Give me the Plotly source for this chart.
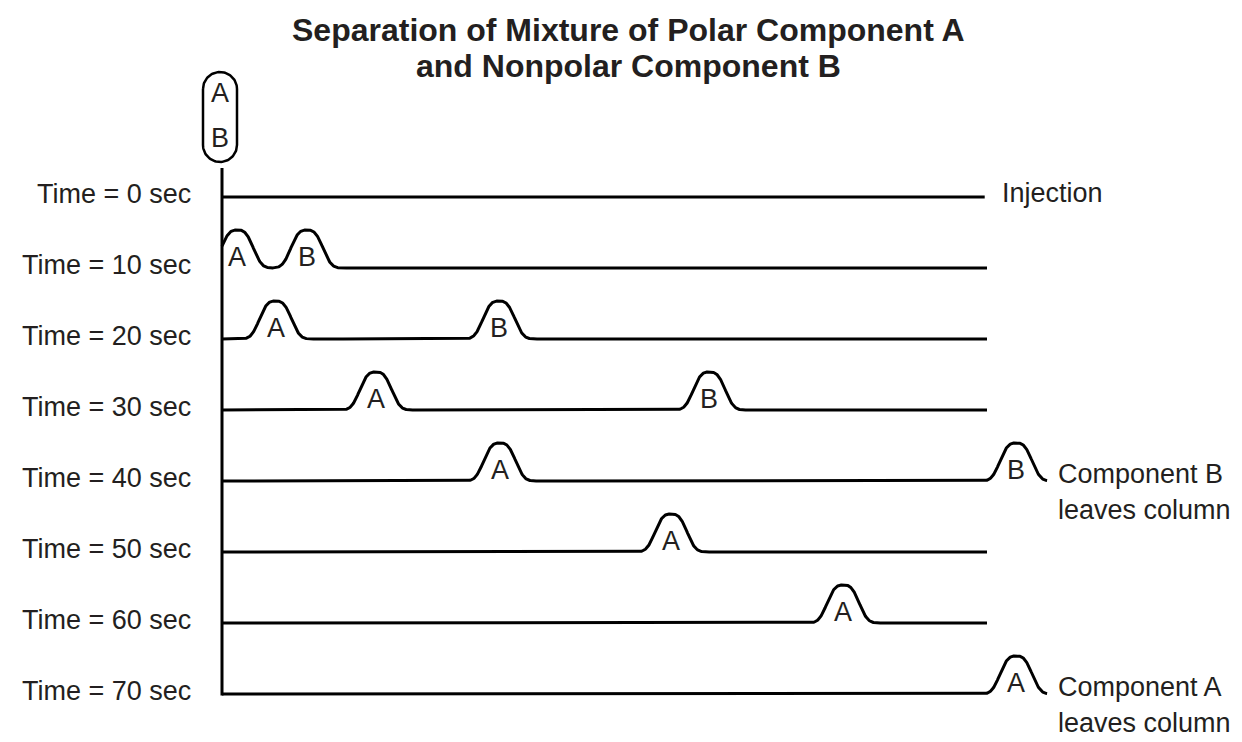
import numpy as np
import plotly.graph_objects as go

# ---------------- data ----------------
times = [0, 10, 20, 30, 40, 50, 60, 70]                 # seconds
time_labels = ["Time = 0 sec", "Time = 10 sec", "Time = 20 sec", "Time = 30 sec",
               "Time = 40 sec", "Time = 50 sec", "Time = 60 sec", "Time = 70 sec"]
# peak position along the column (0 = inlet, 100 = outlet), None = not present
pos_A = [None, 2.0, 7.0, 20.1, 36.3, 58.7, 81.2, 103.8]
pos_B = [None, 11.1, 36.2, 63.7, 103.8, None, None, None]
column_length = 100
title_lines = ["Separation of Mixture of Polar Component A", "and Nonpolar Component B"]

# ---------------- geometry / style ----------------
W, H = 1242, 742
PX_X, X0 = 7.65, 222.0     # px per column unit, px of column inlet
PX_Y, Y0 = 7.1, 197.0      # px per second, px of t = 0 row
FONT = "Liberation Sans, Arial, Helvetica, sans-serif"
INK = "#231f20"
peak_h = 38 / PX_Y
peak_w = 18.6 / PX_X
peak_p = 3.0

def px2x(p):
    return (p - X0) / PX_X

def px2y(p):
    return (p - Y0) / PX_Y

fig = go.Figure()

# baselines with peaks
for t, a, b in zip(times, pos_A, pos_B):
    centers = [c for c in (a, b) if c is not None]
    end = column_length
    if centers and max(centers) > column_length:
        end = max(centers) + 31 / PX_X
    if t == 0:
        end = column_length - 0.3
    xs = np.linspace(0, end, 2000)
    ys = np.full_like(xs, float(t))
    for c in centers:
        ys = ys - peak_h * np.exp(-(np.abs(xs - c) / peak_w) ** peak_p)
    fig.add_trace(go.Scatter(x=xs, y=ys, mode="lines",
                             line=dict(color="black", width=3),
                             hoverinfo="skip", showlegend=False))

# vertical column line
fig.add_trace(go.Scatter(x=[0, 0], y=[px2y(168), times[-1] + 0.2], mode="lines",
                         line=dict(color="black", width=3),
                         hoverinfo="skip", showlegend=False))

# capsule (injected mixture)
cx, r, top, bot = 220.0, 17.0, 72.0, 162.0
ang1 = np.linspace(np.pi, 2 * np.pi, 60)
ang2 = np.linspace(0, np.pi, 60)
cap_px_x = np.concatenate([cx + r * np.cos(ang1), cx + r * np.cos(ang2), [cx - r]])
cap_px_y = np.concatenate([top + r + r * np.sin(ang1), bot - r + r * np.sin(ang2), [top + r]])
fig.add_trace(go.Scatter(x=px2x(cap_px_x), y=px2y(cap_px_y), mode="lines",
                         line=dict(color="black", width=2.5),
                         hoverinfo="skip", showlegend=False))

ann = []
ann.append(dict(x=px2x(cx), y=px2y(93), text="A", showarrow=False,
                font=dict(size=27, color=INK, family=FONT)))
ann.append(dict(x=px2x(cx), y=px2y(138), text="B", showarrow=False,
                font=dict(size=27, color=INK, family=FONT)))

# time labels
for t, lab in zip(times, time_labels):
    ann.append(dict(x=px2x(193), y=t, text=lab, showarrow=False, xanchor="right",
                    yanchor="middle", yshift=3,
                    font=dict(size=27, color=INK, family=FONT)))

# peak letters
for t, a, b in zip(times, pos_A, pos_B):
    for c, letter in ((a, "A"), (b, "B")):
        if c is not None:
            ann.append(dict(x=c, y=t, text=letter, showarrow=False, yanchor="middle",
                            yshift=11, font=dict(size=27, color=INK, family=FONT)))

# right side notes
ann.append(dict(x=px2x(1000), y=0, text="Injection", showarrow=False, xanchor="left",
                yanchor="middle", yshift=4, font=dict(size=27, color=INK, family=FONT)))
for t, comp in ((40, "Component B"), (70, "Component A")):
    ann.append(dict(x=px2x(1056), y=t, text=comp, showarrow=False, xanchor="left",
                    yanchor="middle", yshift=7, font=dict(size=27, color=INK, family=FONT)))
    ann.append(dict(x=px2x(1056), y=t, text="leaves column", showarrow=False, xanchor="left",
                    yanchor="middle", yshift=-29, font=dict(size=27, color=INK, family=FONT)))

# title
for i, line in enumerate(title_lines):
    ann.append(dict(x=628 / W, y=1 - (30 + 36 * i) / H, xref="paper", yref="paper",
                    text="<b>" + line + "</b>", showarrow=False, xanchor="center",
                    yanchor="middle", font=dict(size=32, color=INK, family=FONT)))

fig.update_layout(
    width=W, height=H,
    margin=dict(l=0, r=0, t=0, b=0),
    paper_bgcolor="white", plot_bgcolor="white",
    xaxis=dict(range=[px2x(0), px2x(W)], visible=False, fixedrange=True),
    yaxis=dict(range=[px2y(H), px2y(0)], visible=False, fixedrange=True),
    annotations=ann,
    showlegend=False,
)

fig.write_html("out.html", config={"displayModeBar": False},
               post_script="document.body.style.margin='0';document.body.style.overflow='hidden';")
